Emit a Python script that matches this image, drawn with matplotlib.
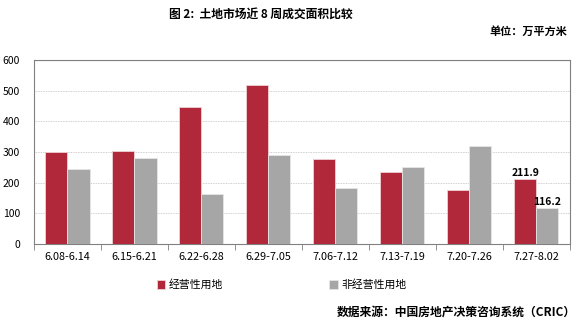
import matplotlib
matplotlib.use("Agg")
import matplotlib.pyplot as plt
import numpy as np

plt.rcParams['font.family'] = ['Noto Sans CJK SC', 'DejaVu Sans']

# weekly land transaction area (10k sqm)
weeks = ["6.08-6.14", "6.15-6.21", "6.22-6.28", "6.29-7.05",
         "7.06-7.12", "7.13-7.19", "7.20-7.26", "7.27-8.02"]
commercial = [301, 302, 447, 519, 277, 234, 178, 211.9]
non_commercial = [244, 282, 164, 291, 182, 251, 319, 116.2]

red = "#B0283A"
grey = "#A6A6A6"

fig = plt.figure(figsize=(5.85, 3.25), dpi=100)
ax = fig.add_axes([0.058, 0.249, 0.916, 0.566])

x = np.arange(len(weeks))
w = 0.33
ax.bar(x - w / 2, commercial, w, color=red, edgecolor="#f0d0d4", linewidth=0.6,
       label="经营性用地", zorder=3)
ax.bar(x + w / 2, non_commercial, w, color=grey, edgecolor="#e6e6e6", linewidth=0.6,
       label="非经营性用地", zorder=3)

# value labels on the latest week only
ax.text(x[-1] - w / 2, commercial[-1] + 4, f"{commercial[-1]:.1f}", ha="center",
        va="bottom", fontsize=7.5, fontweight="bold")
ax.text(x[-1] + w / 2, non_commercial[-1] + 4, f"{non_commercial[-1]:.1f}", ha="center",
        va="bottom", fontsize=7.5, fontweight="bold")

ax.set_ylim(0, 600)
ax.set_yticks(range(0, 601, 100))
ax.set_xlim(-0.5, len(weeks) - 0.5)
ax.set_xticks(x)
ax.set_xticklabels(weeks, fontsize=7.8)
ax.tick_params(axis="y", labelsize=7.5, length=0, pad=10)
ax.tick_params(axis="x", length=0, pad=6)
# category separators on the bottom axis
ax.set_xticks(np.arange(-0.5, len(weeks) + 0.5, 1), minor=True)
ax.tick_params(axis="x", which="minor", length=4, color="#808080", direction="out")

ax.yaxis.grid(True, linestyle=(0, (1, 1)), color="#c0c0c0", linewidth=0.6, zorder=0)
ax.axhline(600, color="#808080", linewidth=0.8)
for s in ["left", "right", "bottom", "top"]:
    ax.spines[s].set_color("#808080")
    ax.spines[s].set_linewidth(0.8)

ax.legend(loc="upper center", bbox_to_anchor=(0.462, -0.14), ncol=2, frameon=False,
          fontsize=7.8, handlelength=0.8, handleheight=0.8, handletextpad=0.3,
          columnspacing=9.8)

fig.text(0.445, 0.955, "图 2:  土地市场近 8 周成交面积比较", ha="center", va="center",
         fontsize=8.5, fontweight="bold")
fig.text(0.97, 0.905, "单位：万平方米", ha="right", va="center",
         fontsize=8, fontweight="bold")
fig.text(0.985, 0.04, "数据来源：中国房地产决策咨询系统（CRIC）", ha="right", va="center",
         fontsize=8.5, fontweight="bold")

fig.savefig("out.png", dpi=100)
